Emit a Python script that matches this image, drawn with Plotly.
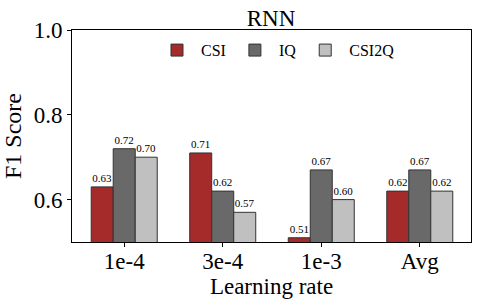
import plotly.graph_objects as go

categories = ["1e-4", "3e-4", "1e-3", "Avg"]
csi = [0.63, 0.71, 0.51, 0.62]
iq = [0.72, 0.62, 0.67, 0.67]
csi2q = [0.70, 0.57, 0.60, 0.62]
series = [("CSI", csi, "#A52A2A"), ("IQ", iq, "#696969"), ("CSI2Q", csi2q, "#C0C0C0")]

font = "Liberation Serif, Times New Roman, serif"
fig = go.Figure()
for name, vals, col in series:
    fig.add_trace(go.Bar(
        x=categories, y=vals, name=name,
        marker=dict(color=col, line=dict(color="#333333", width=1)),
        text=[f"{v:.2f}" for v in vals], textposition="outside",
        textfont=dict(family=font, size=11, color="black"),
        cliponaxis=False,
    ))

fig.update_layout(
    width=479, height=308,
    margin=dict(l=72, r=8, t=30, b=66, autoexpand=False),
    barmode="group", bargap=0.33, bargroupgap=0,
    plot_bgcolor="white", paper_bgcolor="white",
    font=dict(family=font, color="black"),
    title=dict(text="RNN", x=271/479, xanchor="center", y=1 - 18/308, yanchor="middle",
               font=dict(size=23, family=font)),
    legend=dict(orientation="h", x=0.203, xanchor="left", y=0.985, yanchor="top",
                font=dict(size=16, family=font), bgcolor="rgba(0,0,0,0)",
                itemwidth=38, traceorder="normal"),
    uniformtext=dict(minsize=11, mode="show"),
)
fig.update_xaxes(
    automargin=False,
    range=[-0.53, 3.52], showline=True, linecolor="black", linewidth=1, mirror=True,
    ticks="outside", ticklen=4, tickcolor="black",
    tickfont=dict(size=23, family=font), ticklabelstandoff=-6,
    title=dict(text="Learning rate", font=dict(size=23, family=font), standoff=0),
)
fig.update_yaxes(
    automargin=False,
    range=[0.5, 1.0], tickvals=[0.6, 0.8, 1.0], ticktext=["0.6", "0.8", "1.0"],
    showline=True, linecolor="black", linewidth=1, mirror=True,
    ticks="outside", ticklen=4, tickcolor="black", showgrid=False, zeroline=False,
    tickfont=dict(size=23, family=font),
    title=dict(text="F1 Score", font=dict(size=24, family=font), standoff=8),
)
fig.write_html("out.html", config={"displayModeBar": False},
               post_script="document.body.style.margin='0';")
